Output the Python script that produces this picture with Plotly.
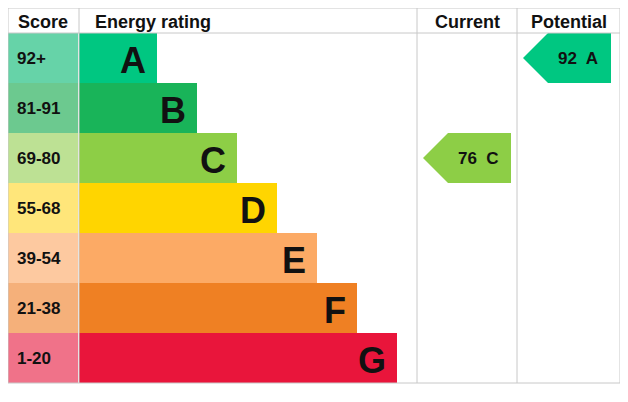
import plotly.graph_objects as go

# EPC bands
scores  = ['92+', '81-91', '69-80', '55-68', '39-54', '21-38', '1-20']
letters = ['A', 'B', 'C', 'D', 'E', 'F', 'G']
colors  = ['#00c781', '#19b459', '#8dce46', '#ffd500', '#fcaa65', '#ef8023', '#e9153b']
light   = ['#66d3a8', '#6cc98f', '#bde194', '#ffe67a', '#fdc9a0', '#f5b07a', '#f07289']

current_value, current_letter     = 76, 'C'
potential_value, potential_letter = 92, 'A'

W, H = 628, 402
top, row_h, hdr = 8, 50, 25
left, score_w = 8, 70
bar_x0 = 79
col_cur, col_pot, right = 417, 517, 620
font = 'Liberation Sans, Arial, sans-serif'

def row_y(i):
    return top + hdr + row_h * i + row_h / 2

fig = go.Figure()

# score column cells
fig.add_trace(go.Bar(y=[row_y(i) for i in range(7)], x=[score_w] * 7, base=left,
                     orientation='h', width=row_h, marker=dict(color=light, line_width=0),
                     hoverinfo='skip'))
# rating bars
fig.add_trace(go.Bar(y=[row_y(i) for i in range(7)], x=[78 + 40 * i for i in range(7)],
                     base=bar_x0, orientation='h', width=row_h,
                     marker=dict(color=colors, line_width=0), hoverinfo='skip'))

for i, (s, l) in enumerate(zip(scores, letters)):
    fig.add_annotation(x=left + 7, y=row_y(i), text='<b>%s</b>' % s, showarrow=False,
                       xanchor='left', font=dict(family=font, size=17, color='#111'))
    fig.add_annotation(x=bar_x0 + 78 + 40 * i - 9, y=row_y(i) + 2, text='<b>%s</b>' % l,
                       showarrow=False, xanchor='right',
                       font=dict(family=font, size=36, color='#111'))

def band(v):
    lims = [92, 81, 69, 55, 39, 21, 1]
    for i, lo in enumerate(lims):
        if v >= lo:
            return i
    return 6

def arrow(x0, value, letter):
    i = band(value)
    yc = row_y(i)
    x1 = x0 + 88
    xs = [x0, x0 + 25, x1, x1, x0 + 25, x0]
    ys = [yc, yc - row_h / 2, yc - row_h / 2, yc + row_h / 2, yc + row_h / 2, yc]
    fig.add_trace(go.Scatter(x=xs, y=ys, fill='toself', fillcolor=colors[i], mode='lines',
                             line=dict(width=0), hoverinfo='skip'))
    fig.add_annotation(x=x0 + 55, y=yc, text='<b>%d  %s</b>' % (value, letter),
                       showarrow=False, font=dict(family=font, size=17, color='#111'))

arrow(423, current_value, current_letter)
arrow(523, potential_value, potential_letter)

# headers
for x, t in [(left + 35, 'Score'), (93, 'Energy rating'), ((col_cur + col_pot) / 2, 'Current'),
             ((col_pot + right) / 2, 'Potential')]:
    fig.add_annotation(x=x, y=top + hdr / 2 + 1, text='<b>%s</b>' % t, showarrow=False,
                       xanchor='left' if t == 'Energy rating' else 'center',
                       font=dict(family=font, size=18, color='#111'))

# grid lines
gc = '#c8c8c8'
bottom = top + hdr + row_h * 7
shapes = [dict(type='rect', x0=left, x1=right, y0=top, y1=bottom, line=dict(color=gc, width=1)),
          dict(type='line', x0=left, x1=right, y0=top + hdr, y1=top + hdr, line=dict(color=gc, width=1))]
for x in [bar_x0, col_cur, col_pot]:
    shapes.append(dict(type='line', x0=x, x1=x, y0=top, y1=bottom, line=dict(color=gc, width=1)))
fig.update_layout(shapes=shapes)

# page body margin shifts the plot by 8px, compensate in the ranges
fig.update_layout(width=W, height=H, margin=dict(l=0, r=0, t=0, b=0), showlegend=False,
                  barmode='overlay', bargap=0, plot_bgcolor='white', paper_bgcolor='white',
                  xaxis=dict(range=[8, W + 8], visible=False, fixedrange=True),
                  yaxis=dict(range=[H + 8, 8], visible=False, fixedrange=True))
fig.write_html("out.html")
